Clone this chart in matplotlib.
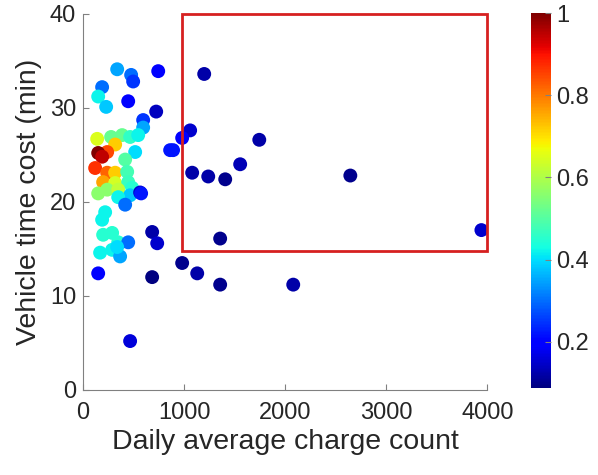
import matplotlib
matplotlib.use("Agg")
import matplotlib.pyplot as plt
from matplotlib.patches import Rectangle
import numpy as np

plt.rcParams['font.family'] = ['Liberation Sans', 'DejaVu Sans']

# daily average charge count, vehicle time cost (min), colour value
charge_count = [337, 475, 495, 743, 1198, 188, 149, 228, 446, 723, 594, 594,
                139, 277, 386, 465, 545, 317, 238, 149, 188, 515, 416, 119, 238,
                317, 436, 198, 317, 446, 238, 347, 485, 465, 564, 347, 149, 416,
                574, 218, 188, 198, 287, 347, 446, 168, 287, 366, 337, 149,
                1059, 980, 861, 890, 1079, 1238, 1406, 1554, 1743, 2644, 3941,
                683, 733, 1356, 980, 1129, 1356, 683, 2079, 465]
time_cost = [34.1, 33.5, 32.8, 33.9, 33.6, 32.2, 31.2, 30.1, 30.7, 29.6, 28.7, 27.9,
             26.7, 26.9, 27.1, 26.9, 27.1, 26.1, 25.3, 25.2, 24.8, 25.3, 24.5, 23.6, 23.1,
             23.1, 23.2, 22.1, 22.0, 22.1, 21.3, 21.3, 21.5, 20.7, 21.0, 20.5, 20.9, 19.7,
             20.9, 18.9, 18.1, 16.5, 16.7, 15.7, 15.7, 14.6, 14.9, 14.2, 15.2, 12.4,
             27.6, 26.8, 25.5, 25.5, 23.1, 22.7, 22.4, 24.0, 26.6, 22.8, 17.0,
             16.8, 15.6, 16.1, 13.5, 12.4, 11.2, 12.0, 11.2, 5.2]
ratio = [0.35, 0.30, 0.25, 0.20, 0.12, 0.30, 0.42, 0.38, 0.20, 0.14, 0.25, 0.35,
         0.65, 0.52, 0.52, 0.46, 0.42, 0.72, 0.85, 1.00, 0.95, 0.40, 0.50, 0.87, 0.82,
         0.72, 0.48, 0.76, 0.64, 0.47, 0.56, 0.62, 0.45, 0.38, 0.15, 0.42, 0.56, 0.30,
         0.22, 0.42, 0.42, 0.45, 0.45, 0.45, 0.30, 0.42, 0.42, 0.35, 0.40, 0.20,
         0.15, 0.20, 0.22, 0.22, 0.12, 0.12, 0.10, 0.13, 0.12, 0.10, 0.15,
         0.12, 0.15, 0.10, 0.10, 0.12, 0.10, 0.09, 0.12, 0.16]

fig = plt.figure(figsize=(5.98, 4.75), dpi=100)
ax = fig.add_axes([0.139, 0.179, 0.676, 0.792])
cax = fig.add_axes([0.888, 0.183, 0.033, 0.789])

sc = ax.scatter(charge_count, time_cost, c=ratio, cmap='jet', s=100,
                vmin=0.087, vmax=1.0, edgecolors='none', zorder=2)
ax.add_patch(Rectangle((975, 14.8), 4000 - 975, 40 - 14.8, fill=False,
                       edgecolor='#d62020', linewidth=2, zorder=3, clip_on=False))

ax.set_xlim(0, 4000)
ax.set_ylim(0, 40)
ax.set_xticks([0, 1000, 2000, 3000, 4000])
ax.set_yticks([0, 10, 20, 30, 40])
for s in ['top', 'right']:
    ax.spines[s].set_visible(False)
for s in ['left', 'bottom']:
    ax.spines[s].set_color('#808080')
ax.tick_params(direction='in', labelsize=17, colors='#808080', labelcolor='#262626', length=4)
ax.tick_params(axis='x', pad=9)
ax.tick_params(axis='y', pad=5)
ax.set_xlabel('Daily average charge count', fontsize=20.5, color='#262626', labelpad=3)
ax.set_ylabel('Vehicle time cost (min)', fontsize=20.5, color='#262626', labelpad=6)

cb = fig.colorbar(sc, cax=cax)
cb.set_ticks([0.2, 0.4, 0.6, 0.8, 1.0])
cb.set_ticklabels(['0.2', '0.4', '0.6', '0.8', '1'])
cb.outline.set_visible(False)
cax.tick_params(direction='in', labelsize=17, length=4, pad=4, colors='#808080', labelcolor='#262626')

fig.savefig('out.png', dpi=100)
